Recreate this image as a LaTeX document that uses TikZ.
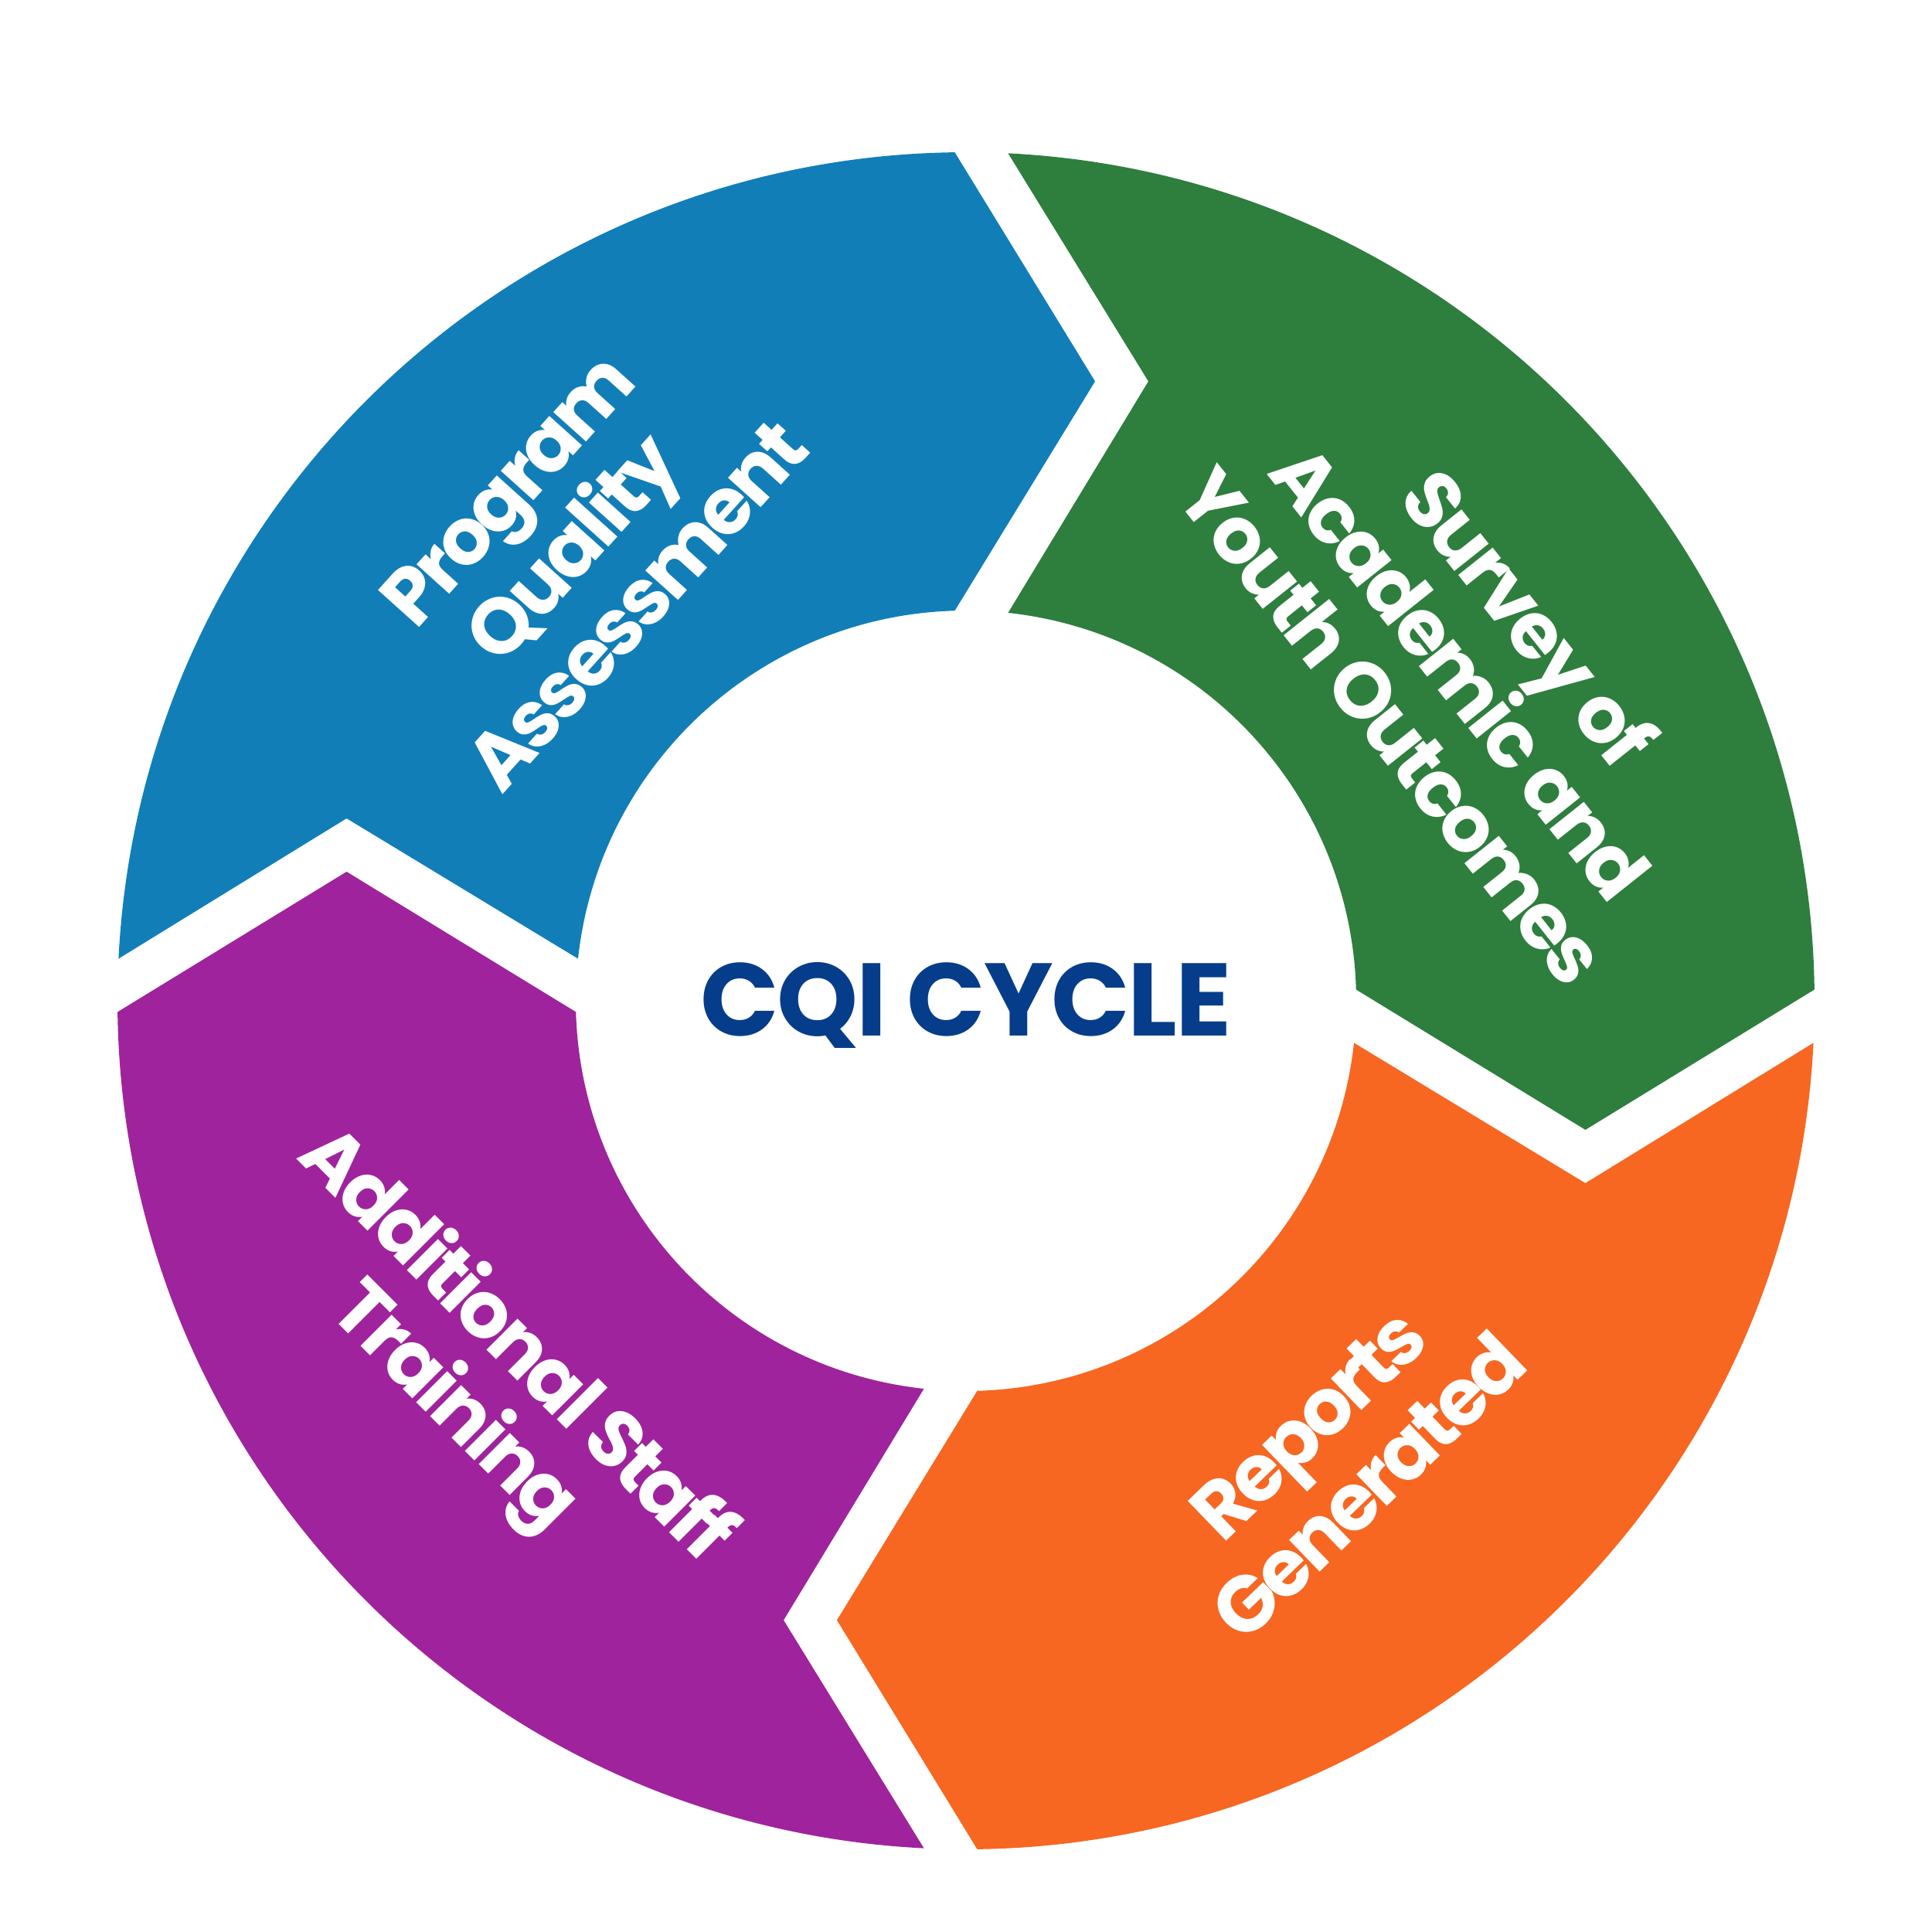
\documentclass[tikz,border=0pt]{standalone}
\usepackage{fontspec}
\setmainfont{Poppins}
\newfontfamily\cqilblfont{Poppins}[LetterSpace=-5]
\newfontfamily\cqittlfont{Poppins}[LetterSpace=-1.8]
\definecolor{cqiblue}{HTML}{117EB8}
\definecolor{cqigreen}{HTML}{2E7E3E}
\definecolor{cqiorange}{HTML}{F76721}
\definecolor{cqipurple}{HTML}{9F239C}
\definecolor{cqinavy}{HTML}{063D8A}
\newcommand\cqiseg[1]{%
  \fill[#1] (177.155:10.98) arc[start angle=177.155,end angle=90.757,radius=10.98]
    -- (1.67,8.015) -- (91.645:5.05) arc[start angle=91.645,end angle=173.805,radius=5.05]
    -- (-8.015,2.36) -- cycle;}
\tikzset{
  lbl/.style={text=white, font=\cqilblfont\fontsize{29}{32}\selectfont\bfseries, align=center, inner sep=0pt},
  ttl/.style={text=cqinavy, font=\cqittlfont\fontsize{38}{40}\selectfont\bfseries, inner sep=0pt, anchor=base}
}
\begin{document}
\begin{tikzpicture}
\useasboundingbox (-12.5,-12.05) rectangle (12.5,12.95);
\begin{scope}[rotate=0]\cqiseg{cqiblue}\end{scope}
\begin{scope}[rotate=-90]\cqiseg{cqigreen}\end{scope}
\begin{scope}[rotate=-180]\cqiseg{cqiorange}\end{scope}
\begin{scope}[rotate=-270]\cqiseg{cqipurple}\end{scope}
\node[lbl, rotate=48] (pqa) at (-5.10,5.87) {Program\\Quality\\Assessment};
\node[lbl, rotate=-51.5] (survey) at (6.42,4.27) {Survey of\\Academic and\\Youth Outcomes};
\node[lbl, rotate=44] (reports) at (4.82,-5.88) {Reports\\Generated};
\node[lbl, rotate=-45] (training) at (-6.25,-4.88) {Additional Staff\\Training};
\node[ttl] (cqi) at (0.0,-0.46) {CQI CYCLE};
\end{tikzpicture}
\end{document}
